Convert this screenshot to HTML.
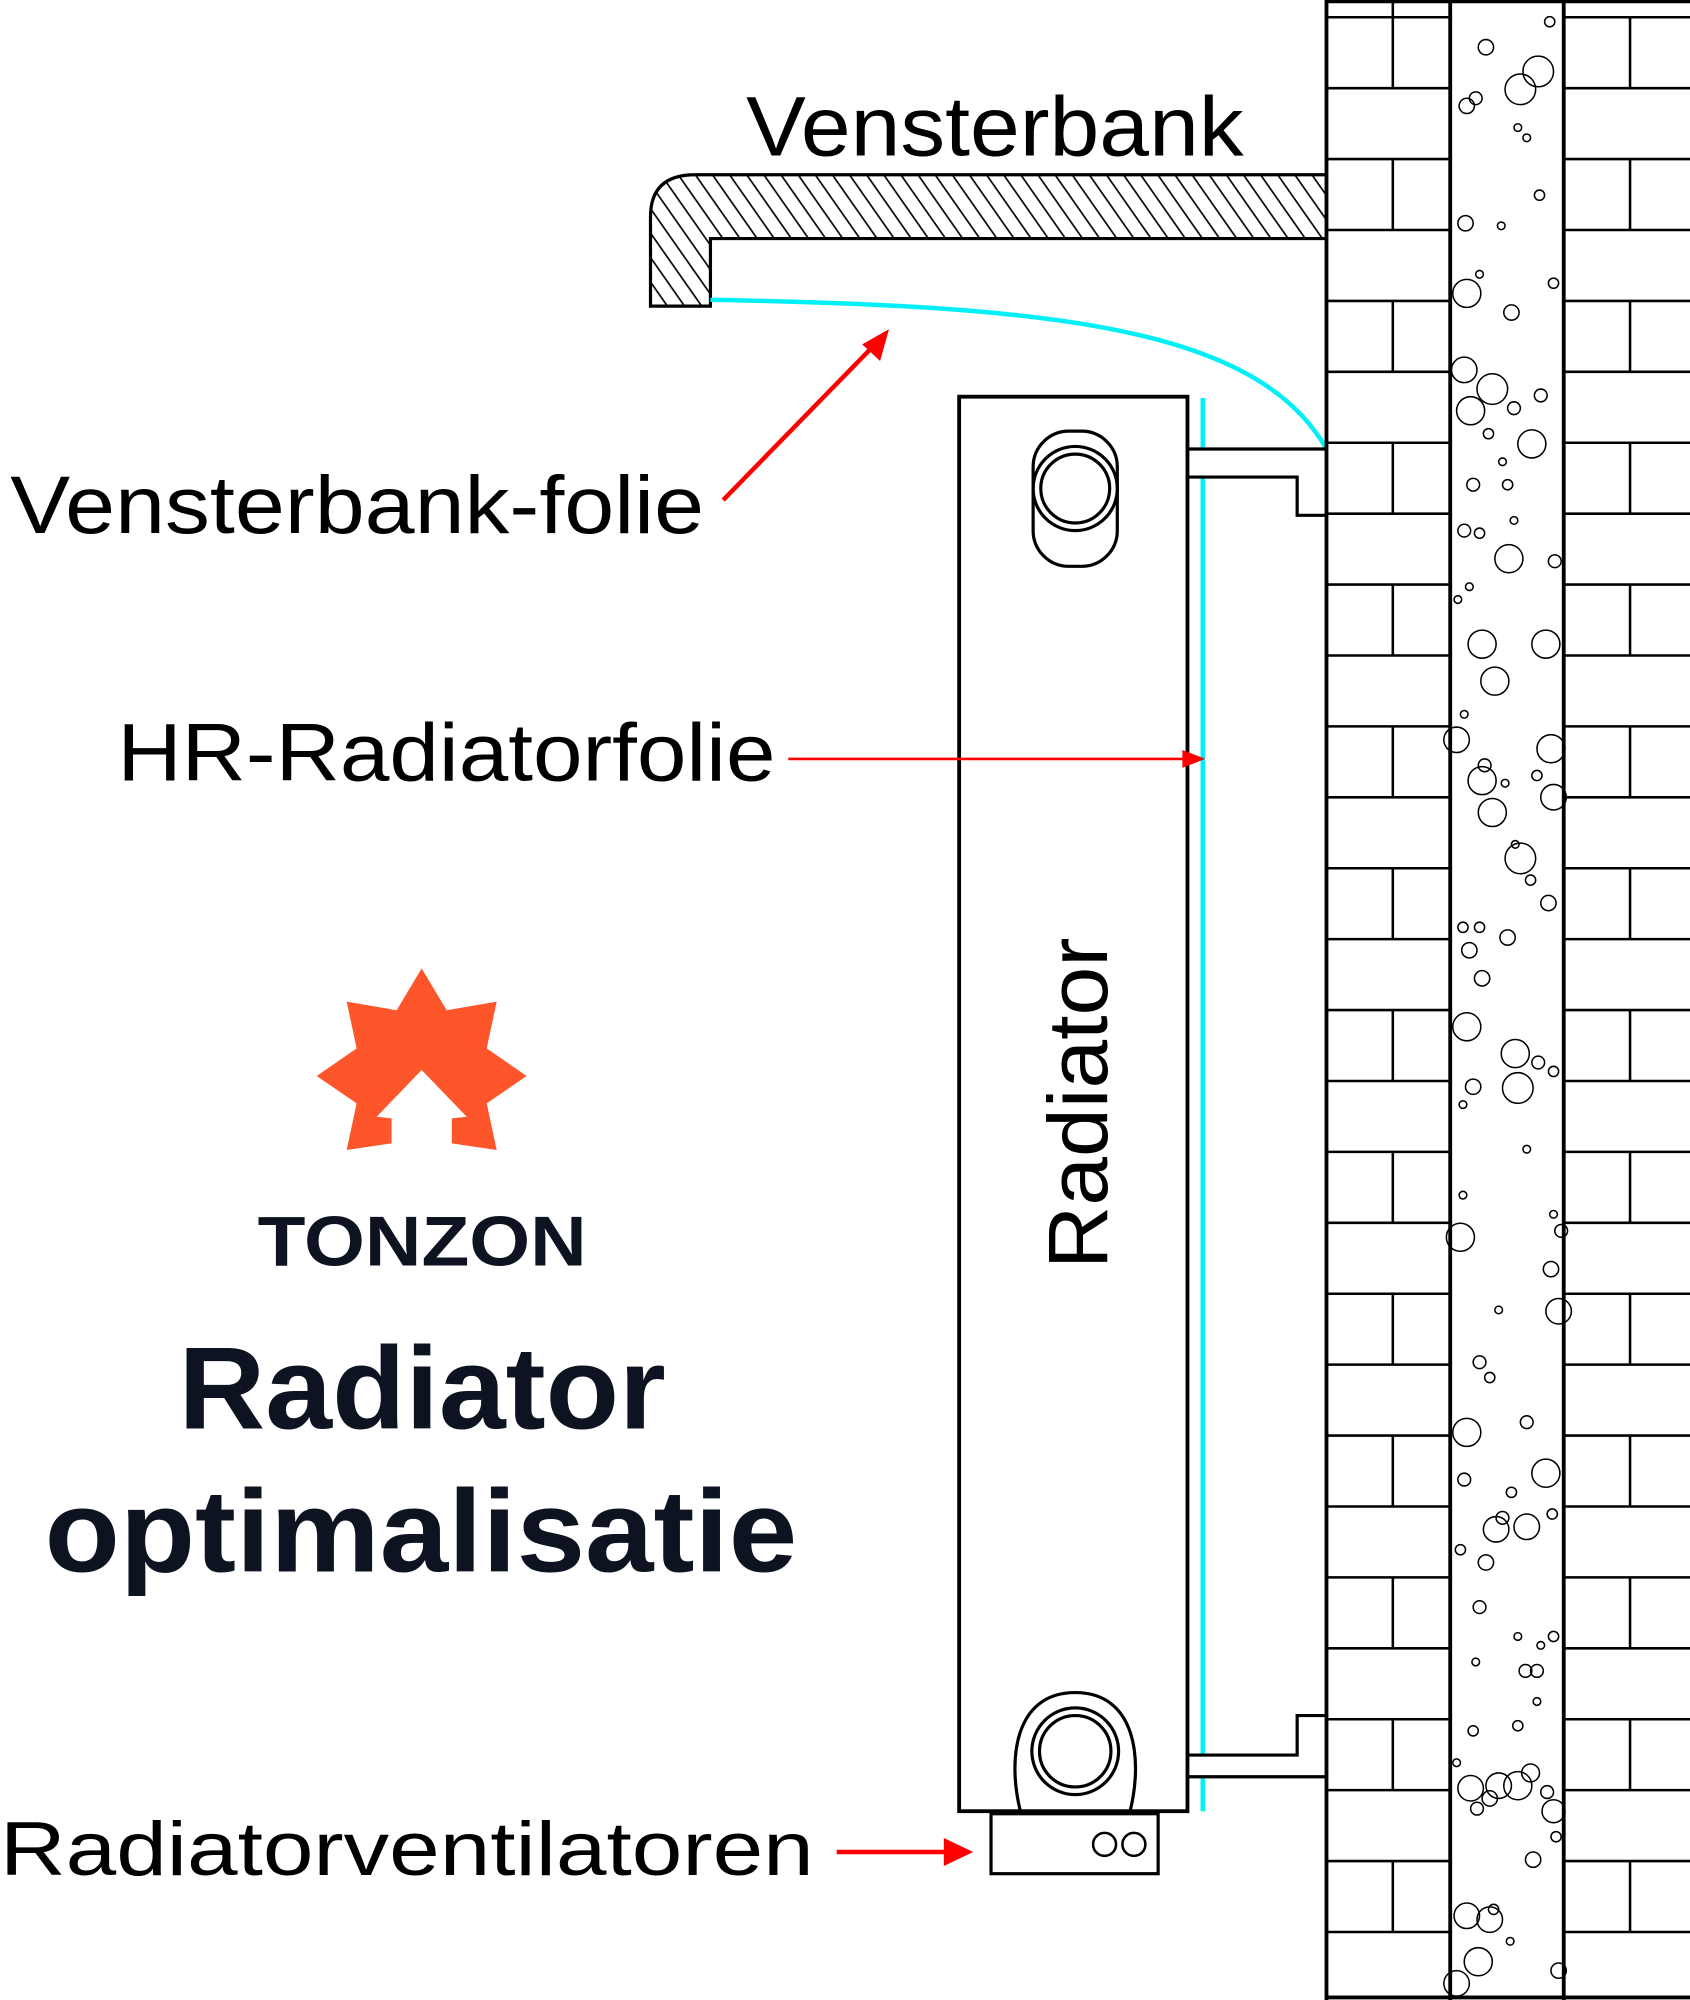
<!DOCTYPE html>
<html><head><meta charset="utf-8"><style>
html,body{margin:0;padding:0;background:#fff}
svg{display:block}
text{font-family:"Liberation Sans",sans-serif}
</style></head><body>
<svg width="1690" height="2000" viewBox="0 0 1325 1568" xmlns="http://www.w3.org/2000/svg">
<defs>
<pattern id="h" width="11" height="11" patternUnits="userSpaceOnUse" patternTransform="rotate(-35)">
<line x1="5" y1="0" x2="5" y2="11" stroke="#000" stroke-width="1.3"/>
</pattern>
</defs>
<rect width="1325" height="1568" fill="#fff"/>

<!-- window sill -->
<path d="M510,240 L510,170 Q510,137 545,137 L1040,137 L1040,187 L557,187 L557,240 Z" fill="url(#h)" stroke="#000" stroke-width="2.5"/>
<text x="585" y="122" font-size="66" textLength="390" lengthAdjust="spacingAndGlyphs">Vensterbank</text>

<!-- cyan foils -->
<path d="M557,235 C820,240 985,255 1040,352" fill="none" stroke="#00f0f8" stroke-width="3.5"/>
<line x1="943" y1="312" x2="943" y2="1420" stroke="#00f0f8" stroke-width="3.5"/>

<!-- brackets -->
<path d="M931,352 L1040,352 L1040,404 L1017,404 L1017,374 L931,374" fill="#fff" stroke="#000" stroke-width="2.5"/>
<path d="M931,1393 L1040,1393 L1040,1345 L1017,1345 L1017,1376 L931,1376" fill="#fff" stroke="#000" stroke-width="2.5"/>

<!-- radiator -->
<rect x="752" y="311" width="179" height="1109" fill="none" stroke="#000" stroke-width="3"/>
<rect x="810" y="338" width="66" height="106" rx="28" fill="none" stroke="#000" stroke-width="2.5"/>
<circle cx="843" cy="383" r="33" fill="none" stroke="#000" stroke-width="2.5"/>
<circle cx="843" cy="383" r="27" fill="none" stroke="#000" stroke-width="2.5"/>
<path d="M800,1420 C790,1380 795,1327 843,1327 C891,1327 896,1380 886,1420" fill="none" stroke="#000" stroke-width="2.5"/>
<circle cx="843" cy="1373" r="34" fill="none" stroke="#000" stroke-width="2.5"/>
<circle cx="843" cy="1373" r="28" fill="none" stroke="#000" stroke-width="2.5"/>
<rect x="777" y="1422" width="131" height="47" fill="none" stroke="#000" stroke-width="2.5"/>
<circle cx="866" cy="1446" r="9" fill="none" stroke="#000" stroke-width="2"/>
<circle cx="889" cy="1446" r="9" fill="none" stroke="#000" stroke-width="2"/>
<text transform="translate(868,995) rotate(-90)" font-size="66" textLength="260" lengthAdjust="spacingAndGlyphs">Radiator</text>

<!-- labels & arrows -->
<text x="8" y="418" font-size="64" textLength="544" lengthAdjust="spacingAndGlyphs">Vensterbank-folie</text>
<line x1="567" y1="392" x2="686" y2="270" stroke="#f00" stroke-width="3.5"/>
<path d="M697,258 L676,270 L690,283 Z" fill="#f00"/>
<text x="92" y="612" font-size="64" textLength="516" lengthAdjust="spacingAndGlyphs">HR-Radiatorfolie</text>
<line x1="618" y1="595" x2="930" y2="595" stroke="#f00" stroke-width="2"/>
<path d="M945,595 L927,588 L927,602 Z" fill="#f00"/>
<text x="0" y="1470" font-size="60" textLength="638" lengthAdjust="spacingAndGlyphs">Radiatorventilatoren</text>
<line x1="656" y1="1452" x2="745" y2="1452" stroke="#f00" stroke-width="3.5"/>
<path d="M763,1452 L740,1441 L740,1463 Z" fill="#f00"/>

<!-- logo -->
<path fill="#ff552a" d="M330.6,759.2 L350.2,792 L389.4,785.3 L381.6,821.9 L412.9,843.6 L381.6,865 L389.4,901.6 L354.2,896.4 L354.2,876.8 L365.9,875.5 L330.6,838.9 L295.3,875.5 L307,876.8 L307,896.4 L271.8,901.6 L279.6,865 L248.3,843.6 L279.6,821.9 L271.8,785.3 L311,792 Z"/>
<text x="202" y="992" font-size="55" font-weight="bold" fill="#0d1320" textLength="258" lengthAdjust="spacingAndGlyphs">TONZON</text>
<text x="140" y="1120" font-size="92" font-weight="bold" fill="#0d1320" textLength="382" lengthAdjust="spacingAndGlyphs">Radiator</text>
<text x="35" y="1232" font-size="92" font-weight="bold" fill="#0d1320" textLength="590" lengthAdjust="spacingAndGlyphs">optimalisatie</text>

<!-- wall -->
<g stroke="#000" stroke-width="2" fill="none">
<path d="M1040,13.5 H1137 M1040,69.1 H1137 M1040,124.7 H1137 M1040,180.3 H1137 M1040,235.9 H1137 M1040,291.5 H1137 M1040,347.1 H1137 M1040,402.7 H1137 M1040,458.3 H1137 M1040,513.9 H1137 M1040,569.5 H1137 M1040,625.1 H1137 M1040,680.7 H1137 M1040,736.3 H1137 M1040,791.9 H1137 M1040,847.5 H1137 M1040,903.1 H1137 M1040,958.7 H1137 M1040,1014.3 H1137 M1040,1069.9 H1137 M1040,1125.5 H1137 M1040,1181.1 H1137 M1040,1236.7 H1137 M1040,1292.3 H1137 M1040,1347.9 H1137 M1040,1403.5 H1137 M1040,1459.1 H1137 M1040,1514.7 H1137"/>
<path d="M1226,13.5 H1325 M1226,69.1 H1325 M1226,124.7 H1325 M1226,180.3 H1325 M1226,235.9 H1325 M1226,291.5 H1325 M1226,347.1 H1325 M1226,402.7 H1325 M1226,458.3 H1325 M1226,513.9 H1325 M1226,569.5 H1325 M1226,625.1 H1325 M1226,680.7 H1325 M1226,736.3 H1325 M1226,791.9 H1325 M1226,847.5 H1325 M1226,903.1 H1325 M1226,958.7 H1325 M1226,1014.3 H1325 M1226,1069.9 H1325 M1226,1125.5 H1325 M1226,1181.1 H1325 M1226,1236.7 H1325 M1226,1292.3 H1325 M1226,1347.9 H1325 M1226,1403.5 H1325 M1226,1459.1 H1325 M1226,1514.7 H1325"/>
<path d="M1092,0 V13.5"/>
<path d="M1092,13.5 V69.1 M1092,124.7 V180.3 M1092,235.9 V291.5 M1092,347.1 V402.7 M1092,458.3 V513.9 M1092,569.5 V625.1 M1092,680.7 V736.3 M1092,791.9 V847.5 M1092,903.1 V958.7 M1092,1014.3 V1069.9 M1092,1125.5 V1181.1 M1092,1236.7 V1292.3 M1092,1347.9 V1403.5 M1092,1459.1 V1514.7"/>
<path d="M1278,13.5 V69.1 M1278,124.7 V180.3 M1278,235.9 V291.5 M1278,347.1 V402.7 M1278,458.3 V513.9 M1278,569.5 V625.1 M1278,680.7 V736.3 M1278,791.9 V847.5 M1278,903.1 V958.7 M1278,1014.3 V1069.9 M1278,1125.5 V1181.1 M1278,1236.7 V1292.3 M1278,1347.9 V1403.5 M1278,1459.1 V1514.7"/>
</g>
<g stroke="#000" stroke-width="3" fill="none">
<line x1="1040" y1="0" x2="1040" y2="1568"/>
<line x1="1137" y1="0" x2="1137" y2="1568"/>
<line x1="1226" y1="0" x2="1226" y2="1568"/>
<line x1="1040" y1="1566" x2="1325" y2="1566"/>
<line x1="1040" y1="1" x2="1325" y2="1"/>
</g>
<!-- bubbles -->
<g stroke="#000" stroke-width="1.2" fill="none">
<circle cx="1165" cy="37" r="6"/><circle cx="1206" cy="56" r="12"/><circle cx="1192" cy="70" r="12"/><circle cx="1215" cy="17" r="4"/><circle cx="1157" cy="77" r="5"/><circle cx="1150" cy="83" r="6"/><circle cx="1190" cy="100" r="3"/><circle cx="1197" cy="108" r="3"/><circle cx="1207" cy="153" r="4"/><circle cx="1149" cy="175" r="6"/><circle cx="1177" cy="177" r="3"/><circle cx="1218" cy="222" r="4"/><circle cx="1150" cy="230" r="11"/><circle cx="1185" cy="245" r="6"/><circle cx="1160" cy="215" r="3"/><circle cx="1148" cy="290" r="10"/><circle cx="1170" cy="305" r="12"/><circle cx="1153" cy="322" r="11"/><circle cx="1187" cy="320" r="5"/><circle cx="1201" cy="348" r="11"/><circle cx="1167" cy="340" r="4"/><circle cx="1178" cy="362" r="3"/><circle cx="1208" cy="310" r="5"/><circle cx="1155" cy="380" r="5"/><circle cx="1182" cy="380" r="4"/><circle cx="1148" cy="416" r="5"/><circle cx="1160" cy="418" r="4"/><circle cx="1183" cy="438" r="11"/><circle cx="1219" cy="440" r="5"/><circle cx="1152" cy="460" r="3"/><circle cx="1187" cy="408" r="3"/><circle cx="1143" cy="470" r="3"/><circle cx="1162" cy="505" r="11"/><circle cx="1212" cy="505" r="11"/><circle cx="1172" cy="534" r="11"/><circle cx="1148" cy="560" r="3"/><circle cx="1142" cy="580" r="10"/><circle cx="1216" cy="587" r="11"/><circle cx="1164" cy="600" r="5"/><circle cx="1162" cy="612" r="11"/><circle cx="1205" cy="608" r="4"/><circle cx="1218" cy="625" r="10"/><circle cx="1170" cy="637" r="11"/><circle cx="1180" cy="614" r="3"/><circle cx="1192" cy="673" r="12"/><circle cx="1188" cy="662" r="3"/><circle cx="1214" cy="708" r="6"/><circle cx="1200" cy="690" r="4"/><circle cx="1147" cy="727" r="4"/><circle cx="1160" cy="727" r="4"/><circle cx="1182" cy="735" r="6"/><circle cx="1152" cy="745" r="6"/><circle cx="1162" cy="767" r="6"/><circle cx="1150" cy="805" r="11"/><circle cx="1188" cy="826" r="11"/><circle cx="1206" cy="833" r="5"/><circle cx="1218" cy="840" r="4"/><circle cx="1190" cy="853" r="12"/><circle cx="1155" cy="852" r="6"/><circle cx="1147" cy="866" r="3"/><circle cx="1197" cy="901" r="3"/><circle cx="1147" cy="937" r="3"/><circle cx="1218" cy="952" r="3"/><circle cx="1145" cy="970" r="11"/><circle cx="1224" cy="965" r="5"/><circle cx="1216" cy="995" r="6"/><circle cx="1222" cy="1028" r="10"/><circle cx="1175" cy="1027" r="3"/><circle cx="1160" cy="1068" r="5"/><circle cx="1168" cy="1080" r="4"/><circle cx="1150" cy="1123" r="11"/><circle cx="1197" cy="1115" r="5"/><circle cx="1212" cy="1155" r="11"/><circle cx="1148" cy="1160" r="5"/><circle cx="1185" cy="1170" r="4"/><circle cx="1178" cy="1190" r="5"/><circle cx="1173" cy="1199" r="10"/><circle cx="1197" cy="1197" r="10"/><circle cx="1217" cy="1187" r="4"/><circle cx="1145" cy="1215" r="4"/><circle cx="1165" cy="1225" r="6"/><circle cx="1160" cy="1260" r="5"/><circle cx="1218" cy="1283" r="4"/><circle cx="1190" cy="1283" r="3"/><circle cx="1208" cy="1290" r="3"/><circle cx="1196" cy="1310" r="5"/><circle cx="1205" cy="1310" r="5"/><circle cx="1157" cy="1303" r="3"/><circle cx="1205" cy="1334" r="3"/><circle cx="1190" cy="1353" r="4"/><circle cx="1155" cy="1357" r="4"/><circle cx="1142" cy="1382" r="3"/><circle cx="1153" cy="1402" r="10"/><circle cx="1175" cy="1400" r="10"/><circle cx="1190" cy="1400" r="11"/><circle cx="1200" cy="1390" r="7"/><circle cx="1168" cy="1410" r="6"/><circle cx="1158" cy="1418" r="5"/><circle cx="1213" cy="1405" r="5"/><circle cx="1218" cy="1420" r="9"/><circle cx="1220" cy="1440" r="4"/><circle cx="1202" cy="1458" r="6"/><circle cx="1150" cy="1502" r="10"/><circle cx="1168" cy="1505" r="10"/><circle cx="1171" cy="1497" r="4"/><circle cx="1184" cy="1522" r="3"/><circle cx="1159" cy="1538" r="11"/><circle cx="1142" cy="1555" r="10"/><circle cx="1222" cy="1545" r="6"/>
</g>
</svg>
</body></html>
